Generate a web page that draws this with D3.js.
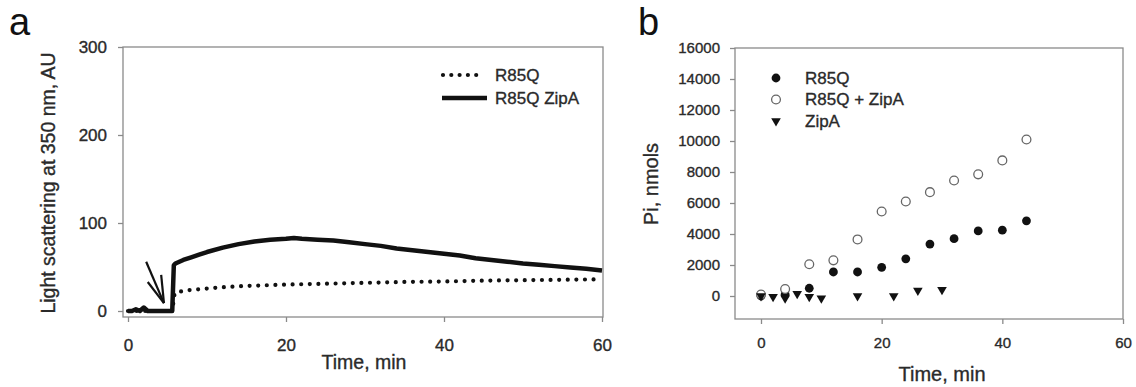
<!DOCTYPE html>
<html>
<head>
<meta charset="utf-8">
<script src="https://cdn.jsdelivr.net/npm/d3@7"></script>
<style>
  body { margin: 0; background: #fff; }
  text { font-family: "Liberation Sans", Arial, sans-serif; fill: #2a2a2a; stroke: #2a2a2a; stroke-width: 0.35px; }
  text.panel { stroke: none; fill: #111; }
</style>
</head>
<body>
<svg id="chart" width="1136" height="387"></svg>
<script>
// ---- panel a: light scattering traces ----
const solidTime = [0, 0.5, 1, 1.5, 2, 2.5, 3, 4, 5, 5.6, 5.8, 6, 7, 8, 9, 10, 12, 14, 16, 18, 20, 21, 22, 24, 26, 28, 30, 32, 34, 36, 38, 40, 42, 44, 46, 48, 50, 52, 54, 56, 58, 60];
const solidValues = [0, 0, 2, 0, 4, 0, 0, 0, 0, 0, 52, 54, 58, 61, 64, 67, 72, 76, 79, 81, 82, 83, 82, 81, 80, 78, 76, 74, 71, 69, 67, 65, 63, 60, 58, 56, 54, 52.5, 51, 49.5, 48, 46];
const dottedTime = [0, 5.6, 5.9, 6.5, 8, 10, 12, 15, 20, 25, 30, 35, 40, 45, 50, 55, 60];
const dottedValues = [0, 0, 20, 22, 24, 25.5, 27, 28.5, 30, 31, 32, 33, 33.5, 34.5, 35, 35.5, 36];
const aXTicks = [0, 20, 40, 60];
const aYTicks = [0, 100, 200, 300];
const aLegend = ["R85Q", "R85Q ZipA"];

// ---- panel b: Pi release ----
const bTime = [0, 4, 8, 12, 16, 20, 24, 28, 32, 36, 40, 44];
const r85q = [0, 100, 500, 1550, 1550, 1850, 2400, 3350, 3700, 4200, 4250, 4850];
const r85qZipA = [100, 450, 2050, 2300, 3650, 5450, 6100, 6700, 7450, 7850, 8750, 10100];
const zipATime = [0, 2, 4, 6, 8, 10, 16, 22, 26, 30];
const zipA = [0, -50, -150, 150, -50, -150, 0, 0, 350, 400];
const bXTicks = [0, 20, 40, 60];
const bYTicks = [0, 2000, 4000, 6000, 8000, 10000, 12000, 14000, 16000];
const bLegend = ["R85Q", "R85Q + ZipA", "ZipA"];

const svg = d3.select("#chart");
const axisCol = "#8a8a8a";

function styleAxis(g) {
  g.select(".domain").remove();
  g.selectAll(".tick line").attr("stroke", axisCol).attr("stroke-width", 1.3);
}

// ================= panel a =================
const ax = d3.scaleLinear().domain([0, 60]).range([128, 602]);
const ay = d3.scaleLinear().domain([0, 300]).range([311, 47]);
const aBox = { l: 123, r: 603, t: 47, b: 317 };

svg.append("text").attr("class", "panel").attr("x", 9).attr("y", 35).attr("font-size", 38).text("a");

svg.append("rect")
  .attr("x", aBox.l).attr("y", aBox.t)
  .attr("width", aBox.r - aBox.l).attr("height", aBox.b - aBox.t)
  .attr("fill", "none").attr("stroke", axisCol).attr("stroke-width", 1.3);

svg.append("g").attr("transform", `translate(0,${aBox.b})`)
  .call(d3.axisBottom(ax).tickValues(aXTicks).tickSize(5).tickPadding(17))
  .call(styleAxis)
  .selectAll("text").attr("font-size", 17).attr("font-family", null).attr("fill", null);

svg.append("g").attr("transform", `translate(${aBox.l},0)`)
  .call(d3.axisLeft(ay).tickValues(aYTicks).tickSize(5).tickPadding(11))
  .call(styleAxis)
  .selectAll("text").attr("font-size", 17).attr("font-family", null).attr("fill", null);

svg.append("text")
  .attr("transform", "translate(55,183) rotate(-90)")
  .attr("text-anchor", "middle").attr("font-size", 19.5)
  .text("Light scattering at 350 nm, AU");

svg.append("text")
  .attr("x", 364).attr("y", 369)
  .attr("text-anchor", "middle").attr("font-size", 19.5)
  .text("Time, min");

const lineA = d3.line().x(d => ax(d[0])).y(d => ay(d[1]));

svg.append("path")
  .datum(d3.zip(dottedTime, dottedValues))
  .attr("d", lineA)
  .attr("fill", "none").attr("stroke", "#111")
  .attr("stroke-width", 4.2).attr("stroke-linecap", "round")
  .attr("stroke-dasharray", "0 8.6");

svg.append("path")
  .datum(d3.zip(solidTime, solidValues))
  .attr("d", lineA)
  .attr("fill", "none").attr("stroke", "#111")
  .attr("stroke-width", 4.5).attr("stroke-linejoin", "round");

// arrow marking the addition
const arrow = svg.append("g").attr("stroke", "#111").attr("stroke-width", 2.2).attr("fill", "none");
const tip = [ax(4.55), ay(9)];
arrow.append("line").attr("x1", ax(2.3)).attr("y1", ay(56)).attr("x2", tip[0]).attr("y2", tip[1]);
arrow.append("line").attr("x1", ax(4.2)).attr("y1", ay(41)).attr("x2", tip[0]).attr("y2", tip[1]);
arrow.append("line").attr("x1", ax(2.5)).attr("y1", ay(33)).attr("x2", tip[0]).attr("y2", tip[1]);

// legend a
const aLeg = svg.append("g");
aLeg.append("line").attr("x1", 443).attr("x2", 483).attr("y1", 75).attr("y2", 75)
  .attr("stroke", "#111").attr("stroke-width", 4.2).attr("stroke-linecap", "round")
  .attr("stroke-dasharray", "0 8.3");
aLeg.append("line").attr("x1", 442).attr("x2", 487).attr("y1", 98).attr("y2", 98)
  .attr("stroke", "#111").attr("stroke-width", 4.5);
aLegend.forEach((t, i) => {
  aLeg.append("text").attr("x", 495).attr("y", 75 + i * 23).attr("dy", "0.35em")
    .attr("font-size", 17).text(t);
});

// ================= panel b =================
const bx = d3.scaleLinear().domain([0, 60]).range([761, 1123]);
const by = d3.scaleLinear().domain([0, 16000]).range([296, 48]);
const bBox = { l: 735, r: 1123, t: 48, b: 319 };

svg.append("text").attr("class", "panel").attr("x", 638).attr("y", 35).attr("font-size", 38).text("b");

svg.append("rect")
  .attr("x", bBox.l).attr("y", bBox.t)
  .attr("width", bBox.r - bBox.l).attr("height", bBox.b - bBox.t)
  .attr("fill", "none").attr("stroke", axisCol).attr("stroke-width", 1.3);

svg.append("g").attr("transform", `translate(0,${bBox.b})`)
  .call(d3.axisBottom(bx).tickValues(bXTicks).tickSize(5).tickPadding(13))
  .call(styleAxis)
  .selectAll("text").attr("font-size", 15).attr("font-family", null).attr("fill", null);

svg.append("g").attr("transform", `translate(${bBox.l},0)`)
  .call(d3.axisLeft(by).tickValues(bYTicks).tickSize(5).tickPadding(10).tickFormat(d3.format("d")))
  .call(styleAxis)
  .selectAll("text").attr("font-size", 15).attr("font-family", null).attr("fill", null);

svg.append("text")
  .attr("transform", "translate(658,184) rotate(-90)")
  .attr("text-anchor", "middle").attr("font-size", 20)
  .text("Pi, nmols");

svg.append("text")
  .attr("x", 942).attr("y", 381)
  .attr("text-anchor", "middle").attr("font-size", 20)
  .text("Time, min");

const tri = d3.symbol().type(d3.symbolTriangle).size(40);

svg.append("g").selectAll("circle")
  .data(d3.zip(bTime, r85q)).join("circle")
  .attr("cx", d => bx(d[0])).attr("cy", d => by(d[1])).attr("r", 4.4)
  .attr("fill", "#111");

svg.append("g").selectAll("circle")
  .data(d3.zip(bTime, r85qZipA)).join("circle")
  .attr("cx", d => bx(d[0])).attr("cy", d => by(d[1])).attr("r", 4.4)
  .attr("fill", "#fff").attr("stroke", "#666").attr("stroke-width", 1.3);

svg.append("g").selectAll("path")
  .data(d3.zip(zipATime, zipA)).join("path")
  .attr("d", tri)
  .attr("transform", d => `translate(${bx(d[0])},${by(d[1])}) rotate(180)`)
  .attr("fill", "#111");

// legend b
const bLeg = svg.append("g");
bLeg.append("circle").attr("cx", 776).attr("cy", 78).attr("r", 4.4).attr("fill", "#111");
bLeg.append("circle").attr("cx", 776).attr("cy", 99.5).attr("r", 4.4)
  .attr("fill", "#fff").attr("stroke", "#666").attr("stroke-width", 1.3);
bLeg.append("path").attr("d", tri).attr("transform", "translate(776,121) rotate(180)").attr("fill", "#111");
bLegend.forEach((t, i) => {
  bLeg.append("text").attr("x", 805).attr("y", 78 + i * 21.5).attr("dy", "0.35em")
    .attr("font-size", 17).text(t);
});
</script>
</body>
</html>
